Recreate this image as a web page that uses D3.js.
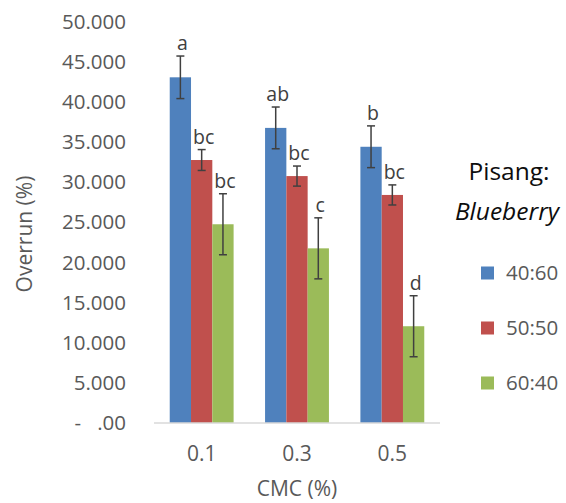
<!DOCTYPE html>
<html>
<head>
<meta charset="utf-8">
<script src="https://cdn.jsdelivr.net/npm/d3@7"></script>
<style>
  body { margin: 0; background: #fff; }
  svg { display: block; font-family: "Open Sans", sans-serif; }
</style>
</head>
<body>
<svg id="chart" width="566" height="503"></svg>
<script>
// data
const cmcLevels = ["0.1", "0.3", "0.5"];
const ratios = ["40:60", "50:50", "60:40"];
const overrun4060 = [43.05, 36.75, 34.4];
const overrun5050 = [32.75, 30.75, 28.4];
const overrun6040 = [24.75, 21.75, 12.05];
const err4060 = [2.65, 2.6, 2.6];
const err5050 = [1.3, 1.25, 1.25];
const err6040 = [3.8, 3.8, 3.8];
const letters4060 = ["a", "ab", "b"];
const letters5050 = ["bc", "bc", "bc"];
const letters6040 = ["bc", "c", "d"];
const yTicks = [0, 5, 10, 15, 20, 25, 30, 35, 40, 45, 50];
const colors = ["#4F81BD", "#C0504D", "#9BBB59"];

const series = [
  { name: ratios[0], values: overrun4060, err: err4060, letters: letters4060 },
  { name: ratios[1], values: overrun5050, err: err5050, letters: letters5050 },
  { name: ratios[2], values: overrun6040, err: err6040, letters: letters6040 }
];

const svg = d3.select("#chart");

const x0 = d3.scaleBand()
  .domain(cmcLevels)
  .range([154, 440])
  .paddingInner(0.33)
  .paddingOuter(0.165);

const x1 = d3.scaleBand()
  .domain(ratios)
  .range([0, x0.bandwidth()]);

const y = d3.scaleLinear()
  .domain([0, 50])
  .range([423, 21.5]);

const color = d3.scaleOrdinal().domain(ratios).range(colors);

// y tick labels
const fmt = d => d === 0 ? "-\u00a0\u00a0\u00a0.00" : d3.format(".3f")(d);
svg.append("g")
  .selectAll("text")
  .data(yTicks)
  .join("text")
  .attr("x", 126)
  .attr("y", d => y(d))
  .attr("dy", "0.35em")
  .attr("text-anchor", "end")
  .attr("font-size", 20.5)
  .attr("fill", "#595959")
  .text(fmt);

// bars
const groups = svg.append("g")
  .selectAll("g")
  .data(series)
  .join("g")
  .attr("fill", d => color(d.name));

groups.selectAll("rect")
  .data(s => s.values.map((v, i) => ({ key: cmcLevels[i], name: s.name, v })))
  .join("rect")
  .attr("x", d => x0(d.key) + x1(d.name))
  .attr("y", d => y(d.v))
  .attr("width", x1.bandwidth())
  .attr("height", d => y(0) - y(d.v));

// x axis line
svg.append("line")
  .attr("x1", 154).attr("x2", 440)
  .attr("y1", y(0)).attr("y2", y(0))
  .attr("stroke", "#D9D9D9")
  .attr("stroke-width", 1.5);

// error bars + letters
series.forEach(s => {
  s.values.forEach((v, i) => {
    const cx = x0(cmcLevels[i]) + x1(s.name) + x1.bandwidth() / 2;
    const top = y(v + s.err[i]);
    const bot = y(v - s.err[i]);
    const g = svg.append("g").attr("stroke", "#404040").attr("stroke-width", 1.5);
    g.append("line").attr("x1", cx).attr("x2", cx).attr("y1", top).attr("y2", bot);
    g.append("line").attr("x1", cx - 4).attr("x2", cx + 4).attr("y1", top).attr("y2", top);
    g.append("line").attr("x1", cx - 4).attr("x2", cx + 4).attr("y1", bot).attr("y2", bot);
    svg.append("text")
      .attr("x", cx + 2)
      .attr("y", top - 6)
      .attr("text-anchor", "middle")
      .attr("font-size", 19.5)
      .attr("fill", "#404040")
      .text(s.letters[i]);
  });
});

// x labels
svg.append("g")
  .selectAll("text")
  .data(cmcLevels)
  .join("text")
  .attr("x", d => x0(d) + x0.bandwidth() / 2)
  .attr("y", 461)
  .attr("text-anchor", "middle")
  .attr("font-size", 21)
  .attr("fill", "#595959")
  .text(d => d);

// axis titles
svg.append("text")
  .attr("x", 297).attr("y", 496)
  .attr("text-anchor", "middle")
  .attr("font-size", 21)
  .attr("fill", "#595959")
  .text("CMC (%)");

svg.append("text")
  .attr("transform", "translate(32,234) rotate(-90)")
  .attr("text-anchor", "middle")
  .attr("font-size", 21)
  .attr("fill", "#595959")
  .text("Overrun (%)");

// legend
svg.append("text")
  .attr("x", 509).attr("y", 180)
  .attr("text-anchor", "middle")
  .attr("font-size", 24.5)
  .attr("fill", "#0d0d0d")
  .text("Pisang:");
svg.append("text")
  .attr("x", 507).attr("y", 220)
  .attr("text-anchor", "middle")
  .attr("font-size", 24.5)
  .attr("font-style", "italic")
  .attr("fill", "#0d0d0d")
  .text("Blueberry");

const leg = svg.append("g")
  .selectAll("g")
  .data(ratios)
  .join("g")
  .attr("transform", (d, i) => `translate(481,${273 + i * 55})`);
leg.append("rect")
  .attr("x", 0).attr("y", -6.5)
  .attr("width", 13).attr("height", 13)
  .attr("fill", d => color(d));
leg.append("text")
  .attr("x", 25).attr("y", 0)
  .attr("dy", "0.35em")
  .attr("font-size", 20.5)
  .attr("fill", "#595959")
  .text(d => d);
</script>
</body>
</html>
